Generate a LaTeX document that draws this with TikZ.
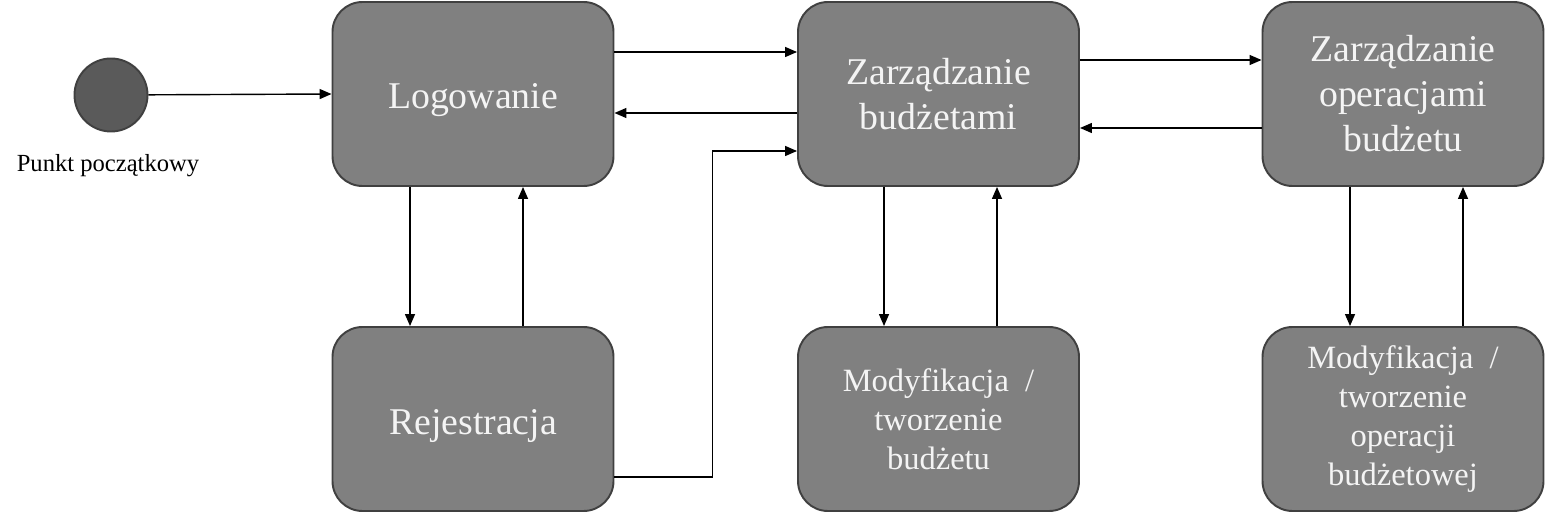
\documentclass[tikz,border=0pt]{standalone}
\usepackage{fontspec}
\setmainfont{Liberation Serif}
\usetikzlibrary{arrows.meta}
\definecolor{boxgray}{HTML}{808080}
\definecolor{startgray}{HTML}{5A5A5A}
\definecolor{edgegray}{HTML}{404040}
\definecolor{textwhite}{HTML}{F4F4F4}

\begin{document}
\begin{tikzpicture}[
    state/.style={draw=edgegray, line width=1.1pt, fill=boxgray, rounded corners=0.6cm,
        minimum width=5.62cm, minimum height=3.68cm, align=center, text=textwhite,
        font=\fontsize{21.5}{25.6}\selectfont, inner sep=0pt},
    substate/.style={state, font=\fontsize{18.5}{22.2}\selectfont},
    link/.style={-{Triangle[length=0.24cm,width=0.2cm]}, line width=0.8pt}
]
    \useasboundingbox (0,0) rectangle (30.9,-10.4);
    \node[circle, draw=edgegray, line width=1.1pt, fill=startgray, minimum size=1.46cm] (start) at (2.22,-1.9) {};
    \node[font=\fontsize{14}{16}\selectfont] (startlbl) at (2.16,-3.32) {Punkt początkowy};
    \node[state] (log) at (9.46,-1.88) {\raisebox{-0.12cm}[\height][\depth]{Logowanie}};
    \node[state] (rej) at (9.46,-8.38) {\raisebox{-0.14cm}[\height][\depth]{Rejestracja}};
    \node[state] (zb) at (18.77,-1.88) {Zarządzanie\\budżetami};
    \node[substate] (mb) at (18.77,-8.38) {Modyfikacja~~/\\tworzenie\\budżetu};
    \node[state] (zo) at (28.06,-1.88) {Zarządzanie\\operacjami\\budżetu};
    \node[substate] (mo) at (28.06,-8.38) {Modyfikacja~~/\\tworzenie\\operacji\\budżetowej};
    \draw[link] (start)--(log.west);
    \draw[link] ([yshift=0.84cm]log.east)--([yshift=0.84cm]zb.west);
    \draw[link] ([yshift=-0.38cm]zb.west)--([yshift=-0.38cm]log.east);
    \draw[link] ([yshift=-1.16cm]rej.east)--++(1.96,0) |- ([yshift=-1.14cm]zb.west);
    \draw[link] ([xshift=-1.26cm]log.south)--([xshift=-1.26cm]rej.north);
    \draw[link] ([xshift=1.0cm]rej.north)--([xshift=1.0cm]log.south);
    \draw[link] ([xshift=-1.09cm]zb.south)--([xshift=-1.09cm]mb.north);
    \draw[link] ([xshift=1.17cm]mb.north)--([xshift=1.17cm]zb.south);
    \draw[link] ([yshift=0.68cm]zb.east)--([yshift=0.68cm]zo.west);
    \draw[link] ([yshift=-0.68cm]zo.west)--([yshift=-0.68cm]zb.east);
    \draw[link] ([xshift=-1.06cm]zo.south)--([xshift=-1.06cm]mo.north);
    \draw[link] ([xshift=1.2cm]mo.north)--([xshift=1.2cm]zo.south);
\end{tikzpicture}
\end{document}
